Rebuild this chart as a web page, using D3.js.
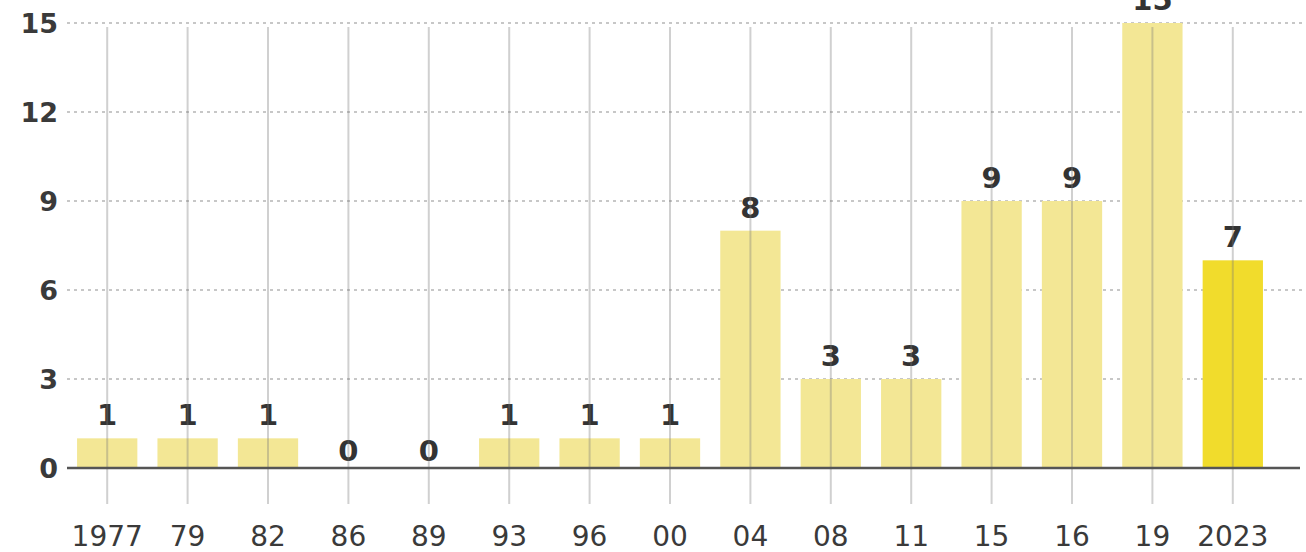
<!DOCTYPE html>
<html><head><meta charset="utf-8">
<script src="https://cdn.jsdelivr.net/npm/d3@7"></script>
<style>html,body{margin:0;padding:0;background:#fff;overflow:hidden}</style>
</head><body>
<svg id="c" width="1306" height="552"></svg>
<script>
const years = ["1977","79","82","86","89","93","96","00","04","08","11","15","16","19","2023"];
const values = [1,1,1,0,0,1,1,1,8,3,3,9,9,15,7];
const yTicks = [0,3,6,9,12,15];
const highlight = "2023";

const svg = d3.select("#c");
const font = "DejaVu Sans, Verdana, sans-serif";
const x = d3.scaleBand().domain(years).range([67, 1273]).paddingInner(0.25).paddingOuter(0.125);
const y = d3.scaleLinear().domain([0, 15]).range([468, 23]);

// horizontal dotted grid
svg.append("g").selectAll("line").data(yTicks.filter(d => d > 0)).join("line")
  .attr("x1", 67).attr("x2", 1306)
  .attr("y1", d => y(d)).attr("y2", d => y(d))
  .attr("stroke", "#b5b5b5").attr("stroke-width", 1.5).attr("stroke-dasharray", "3,4");

// bars
svg.append("g").selectAll("rect").data(years).join("rect")
  .attr("x", d => x(d)).attr("width", x.bandwidth())
  .attr("y", (d, i) => y(values[i])).attr("height", (d, i) => y(0) - y(values[i]))
  .attr("fill", d => d === highlight ? "#f1dc2c" : "#f3e795");

// value labels
svg.append("g").selectAll("text").data(years).join("text")
  .attr("x", d => x(d) + x.bandwidth() / 2)
  .attr("y", (d, i) => y(values[i]) - (values[i] === 0 ? 7 : 13))
  .attr("text-anchor", "middle")
  .attr("font-family", font).attr("font-weight", "bold").attr("font-size", 29)
  .attr("fill", "#333")
  .text((d, i) => values[i]);

// vertical grid lines (drawn over)
svg.append("g").selectAll("line").data(years).join("line")
  .attr("x1", d => x(d) + x.bandwidth() / 2).attr("x2", d => x(d) + x.bandwidth() / 2)
  .attr("y1", 27).attr("y2", 504)
  .attr("stroke", "rgba(120,120,120,0.35)").attr("stroke-width", 2);

// baseline
svg.append("line").attr("x1", 67).attr("x2", 1300).attr("y1", y(0)).attr("y2", y(0))
  .attr("stroke", "#555").attr("stroke-width", 2.5);

// y axis labels
const yAxis = d3.axisLeft(y).tickValues(yTicks).tickSize(0).tickPadding(0);
const ya = svg.append("g").attr("transform", "translate(58,0)").call(yAxis);
ya.select(".domain").remove();
ya.selectAll("text").attr("font-family", font).attr("font-size", 27).attr("font-weight", 600)
  .attr("fill", "#3a3a3a").attr("dy", "0.35em");

// x axis labels
const xAxis = d3.axisBottom(x).tickSize(0).tickPadding(0);
const xa = svg.append("g").attr("transform", "translate(0,546)").call(xAxis);
xa.select(".domain").remove();
xa.selectAll("text").attr("font-family", font).attr("font-size", 28)
  .attr("fill", "#3a3a3a").attr("dy", 0);
</script>
</body></html>
